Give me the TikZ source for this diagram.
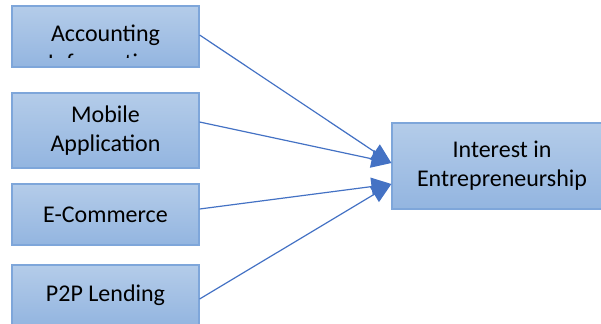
\documentclass[tikz,border=0pt]{standalone}
\usepackage{fontspec}
\setmainfont{Carlito}
\usetikzlibrary{arrows.meta}
\definecolor{boxtop}{HTML}{B4CCE9}
\definecolor{boxbot}{HTML}{93B5E0}
\definecolor{boxline}{HTML}{7EA6DA}
\definecolor{arrowblue}{HTML}{4472C4}
\begin{document}
\begin{tikzpicture}[x=0.5pt, y=-0.5pt,
  factor/.style={draw=boxline, line width=0.6pt, top color=boxtop, bottom color=boxbot, minimum width=93.5pt, inner sep=0pt, align=center, font={\fontsize{12pt}{14.5pt}\selectfont}},
  link/.style={draw=arrowblue, line width=0.6pt, -{Triangle[length=10pt,width=9pt]}}]
\useasboundingbox (0,0) rectangle (601,323);
\clip (0,0) rectangle (601,323);
% independent variables
\node[factor, minimum height=30.5pt] (acc) at (105.5,36.5) {};
\begin{scope}
\clip (12,6) rectangle (199,57.5);
\node[align=center, inner sep=0pt, font={\fontsize{12pt}{14.5pt}\selectfont}] (acctext) at (105.5,47.5) {Accounting\\Information};
\end{scope}
\node[factor, minimum height=37.5pt] (mob) at (105.5,130.5) {Mobile\\Application};
\node[factor, minimum height=30.5pt] (ecom) at (105.5,214.5) {E-Commerce};
\node[factor, minimum height=30.5pt] (p2p) at (105.5,295.5) {P2P Lending};
% dependent variable
\node[factor, minimum width=110pt, minimum height=43pt] (int) at (502,166) {Interest in\\Entrepreneurship};
\coordinate (upin) at ([yshift=1.5pt]int.west);
\coordinate (lowin) at ([yshift=-9pt]int.west);
\draw[link] ([yshift=0.75pt]acc.east) -- (upin);
\draw[link] ([yshift=4.25pt]mob.east) -- (upin);
\draw[link] ([yshift=2.75pt]ecom.east) -- (lowin);
\draw[link] ([yshift=-1.75pt]p2p.east) -- (lowin);
\end{tikzpicture}
\end{document}
